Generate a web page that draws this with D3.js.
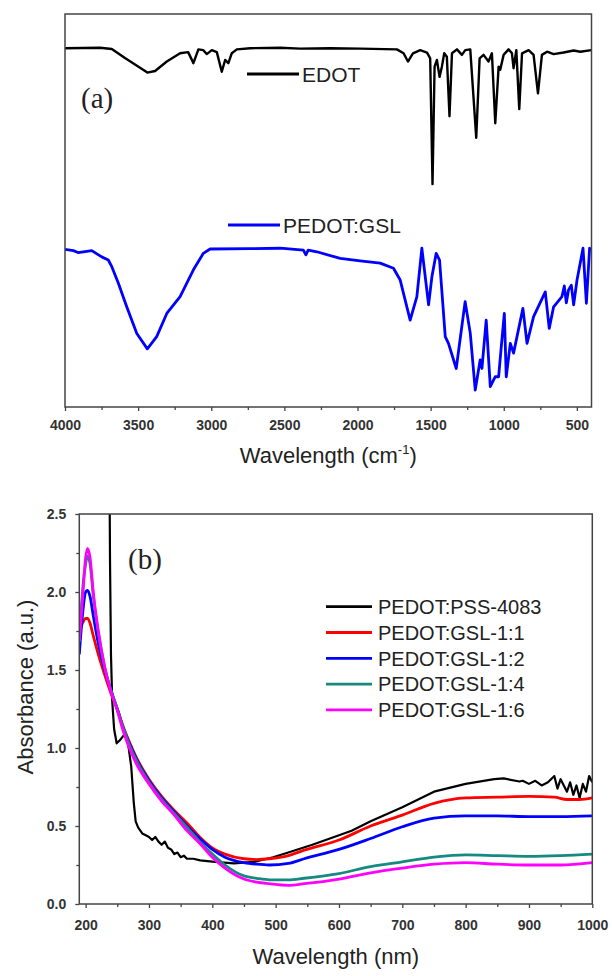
<!DOCTYPE html>
<html>
<head>
<meta charset="utf-8">
<script src="https://cdn.jsdelivr.net/npm/d3@7"></script>
<style>
  body { margin: 0; background: #fff; }
  text { font-family: "Liberation Sans", Arial, sans-serif; }
</style>
</head>
<body>
<div id="chart"></div>
<script>
// ---- panel (a): FTIR, [wavenumber cm-1, transmittance a.u.] ----
var edotIR = [[4000,91.3],[3761,91.4],[3680,91.1],[3590,88.8],[3487,86.3],[3437,85.1],[3384,85.5],[3304,87.9],[3213,90.0],[3158,90.3],[3122,87.5],[3088,91.0],[3054,90.8],[3031,89.8],[2996,90.8],[2962,90.3],[2928,85.3],[2905,88.3],[2883,87.5],[2860,90.0],[2825,91.0],[2734,91.3],[2529,91.4],[2392,91.2],[2187,91.3],[1982,91.2],[1731,91.0],[1685,90.0],[1655,87.9],[1621,90.0],[1571,90.8],[1525,90.2],[1503,88.7],[1487,56.7],[1473,86.6],[1457,88.3],[1439,84.0],[1423,86.6],[1407,90.0],[1389,89.1],[1371,74.0],[1354,90.0],[1320,91.0],[1286,89.6],[1263,90.8],[1229,91.0],[1188,68.5],[1165,88.7],[1138,89.6],[1104,87.9],[1081,90.0],[1058,72.2],[1035,86.6],[1024,85.8],[1001,89.6],[967,91.0],[944,90.0],[933,86.2],[914,90.8],[894,75.8],[875,90.0],[830,90.8],[796,89.6],[766,79.8],[739,89.6],[704,90.4],[659,89.8],[591,90.2],[522,90.7],[477,90.4],[400,90.8]];

var gslIR = [[4000,40.1],[3943,39.8],[3911,39.3],[3875,39.5],[3817,39.8],[3749,38.2],[3704,37.4],[3680,35.7],[3635,31.5],[3578,25.5],[3509,18.7],[3437,14.8],[3373,17.9],[3304,23.8],[3213,28.1],[3122,34.9],[3054,39.1],[3008,40.2],[2734,40.3],[2529,40.4],[2370,39.9],[2353,38.7],[2337,39.9],[2278,39.5],[2118,37.8],[1982,37.2],[1845,36.6],[1754,35.3],[1708,32.3],[1640,22.1],[1594,28.1],[1560,40.4],[1514,26.0],[1491,33.2],[1462,39.1],[1439,37.4],[1400,17.9],[1378,16.2],[1325,9.8],[1264,26.8],[1229,18.8],[1195,4.3],[1161,12.0],[1149,9.8],[1120,22.1],[1092,5.2],[1058,7.7],[1035,7.7],[1019,14.5],[996,23.8],[983,7.7],[955,16.2],[933,13.7],[869,25.1],[841,16.2],[796,23.0],[716,29.3],[689,20.0],[659,25.5],[602,28.1],[586,30.8],[572,26.5],[557,29.8],[538,31.0],[522,26.0],[499,32.3],[458,40.4],[435,26.4],[413,40.4],[400,40.0]];

var irNames = ["EDOT", "PEDOT:GSL"];
var irTicks = [4000, 3500, 3000, 2500, 2000, 1500, 1000, 500];
var irMinor = [3750, 3250, 2750, 2250, 1750, 1250, 750];

// ---- panel (b): UV-vis, [wavelength nm, absorbance a.u.] ----
var pssUV = [[190,3.4],[236,3.4],[237.5,2.9],[238.5,2.2],[240,1.6],[242,1.3],[245,1.12],[249,1.03],[254,1.05],[258,1.07],[262,1.09],[265,1.06],[268,1.0],[272,0.88],[276,0.65],[279,0.53],[283,0.49],[290,0.45],[295,0.44],[300,0.43],[305,0.41],[310,0.43],[315,0.4],[320,0.38],[325,0.4],[330,0.36],[335,0.35],[340,0.32],[345,0.33],[350,0.3],[355,0.31],[360,0.29],[370,0.29],[381,0.28],[404,0.27],[434,0.26],[466,0.27],[496,0.3],[520,0.33],[558,0.38],[620,0.47],[650,0.53],[700,0.62],[750,0.72],[800,0.77],[845,0.8],[860,0.805],[885,0.785],[890,0.79],[900,0.77],[910,0.79],[920,0.76],[930,0.78],[940,0.82],[945,0.74],[950,0.8],[955,0.76],[960,0.72],[965,0.78],[970,0.7],[975,0.76],[980,0.68],[985,0.77],[990,0.72],[995,0.82],[1000,0.78]];
var gsl11UV = [[190,1.74],[195,1.8],[200,1.83],[203,1.83],[207,1.8],[212,1.72],[220,1.6],[230,1.47],[240,1.35],[250,1.25],[260,1.13],[270,1.03],[280,0.94],[300,0.8],[320,0.69],[340,0.6],[360,0.52],[380,0.43],[400,0.36],[420,0.32],[450,0.29],[470,0.285],[490,0.29],[520,0.31],[545,0.345],[600,0.41],[650,0.5],[700,0.57],[750,0.645],[800,0.68],[850,0.685],[900,0.69],[940,0.685],[960,0.67],[980,0.67],[1000,0.68]];
var gsl12UV = [[190,1.6],[195,1.85],[200,2.0],[203,2.01],[207,1.97],[212,1.85],[220,1.67],[230,1.5],[240,1.37],[250,1.25],[260,1.12],[270,1.02],[280,0.93],[300,0.79],[320,0.68],[340,0.59],[360,0.5],[380,0.42],[400,0.35],[420,0.3],[450,0.265],[470,0.255],[490,0.25],[520,0.26],[545,0.29],[600,0.35],[650,0.42],[700,0.495],[750,0.55],[800,0.565],[850,0.565],[900,0.56],[950,0.56],[1000,0.565]];
var gsl14UV = [[190,1.68],[195,2.0],[200,2.18],[203,2.23],[207,2.18],[212,1.98],[220,1.74],[230,1.52],[240,1.37],[250,1.25],[260,1.12],[270,1.01],[280,0.92],[300,0.78],[320,0.67],[340,0.58],[360,0.49],[380,0.4],[400,0.32],[420,0.25],[450,0.18],[470,0.165],[490,0.155],[520,0.155],[545,0.165],[600,0.195],[650,0.24],[700,0.27],[750,0.3],[800,0.315],[850,0.31],[900,0.305],[950,0.31],[1000,0.32]];
var gsl16UV = [[190,1.69],[195,1.95],[200,2.22],[203,2.28],[207,2.22],[212,2.0],[220,1.75],[230,1.52],[240,1.36],[250,1.24],[260,1.1],[270,0.99],[280,0.9],[300,0.77],[320,0.66],[340,0.57],[360,0.47],[380,0.39],[400,0.3],[420,0.23],[450,0.16],[470,0.14],[490,0.13],[520,0.12],[545,0.13],[600,0.16],[650,0.2],[700,0.23],[750,0.255],[800,0.265],[850,0.255],[900,0.25],[950,0.25],[1000,0.265]];

var uvNames = ["PEDOT:PSS-4083", "PEDOT:GSL-1:1", "PEDOT:GSL-1:2", "PEDOT:GSL-1:4", "PEDOT:GSL-1:6"];
var uvXTicks = [200, 300, 400, 500, 600, 700, 800, 900, 1000];
var uvXMinor = [250, 350, 450, 550, 650, 750, 850, 950];
var uvYTicks = [0.0, 0.5, 1.0, 1.5, 2.0, 2.5];
var uvYMinor = [0.25, 0.75, 1.25, 1.75, 2.25];

var uvColors = ["#000000", "#ff0000", "#0000ff", "#168a80", "#ff00ff"];

var svg = d3.select("#chart").append("svg")
    .attr("width", 612)
    .attr("height", 976);

function styleAxis(g) {
    g.select(".domain").remove();
    g.selectAll(".tick line").attr("stroke", "#444").attr("stroke-width", 1.3);
    g.selectAll(".tick text")
        .attr("fill", "#333")
        .attr("font-size", 14)
        .attr("font-weight", "bold")
        .attr("font-family", "Liberation Sans, Arial, sans-serif");
}

// ================= panel (a) =================
var A = {left: 65, right: 591.5, top: 14, bottom: 407};
var xa = d3.scaleLinear().domain([4000, 400]).range([A.left, A.right]);
var ya = d3.scaleLinear().domain([0, 100]).range([A.bottom, A.top]);

svg.append("clipPath").attr("id", "clipA")
    .append("rect").attr("x", A.left).attr("y", A.top)
    .attr("width", A.right - A.left).attr("height", A.bottom - A.top);

var lineA = d3.line().x(d => xa(d[0])).y(d => ya(d[1]));

svg.append("path").datum(edotIR)
    .attr("clip-path", "url(#clipA)")
    .attr("fill", "none").attr("stroke", "#000").attr("stroke-width", 2.4)
    .attr("stroke-linejoin", "round")
    .attr("d", lineA);

svg.append("path").datum(gslIR)
    .attr("clip-path", "url(#clipA)")
    .attr("fill", "none").attr("stroke", "#0000ff").attr("stroke-width", 2.8)
    .attr("stroke-linejoin", "round")
    .attr("d", lineA);

svg.append("g")
    .attr("transform", `translate(0, ${A.bottom})`)
    .call(d3.axisBottom(xa).tickValues(irTicks).tickSize(4).tickPadding(9).tickFormat(d3.format("d")))
    .call(styleAxis);
svg.append("g")
    .attr("transform", `translate(0, ${A.bottom})`)
    .call(d3.axisBottom(xa).tickValues(irMinor).tickSize(3).tickFormat(""))
    .call(styleAxis);

svg.append("rect")
    .attr("x", A.left).attr("y", A.top)
    .attr("width", A.right - A.left).attr("height", A.bottom - A.top)
    .attr("fill", "none").attr("stroke", "#444").attr("stroke-width", 1.5);

svg.append("text")
    .attr("x", 81).attr("y", 108)
    .style("font-family", "Liberation Serif, Times New Roman, serif")
    .attr("font-size", 29).attr("fill", "#222")
    .text("(a)");

// legend labels inside panel (a)
var irLegend = [
    {name: irNames[0], color: "#000", x: 247, y: 74},
    {name: irNames[1], color: "#0000ff", x: 228, y: 225}
];
irLegend.forEach(function(l) {
    svg.append("line")
        .attr("x1", l.x).attr("x2", l.x + 52)
        .attr("y1", l.y).attr("y2", l.y)
        .attr("stroke", l.color).attr("stroke-width", 2.8);
    svg.append("text")
        .attr("x", l.x + 55).attr("y", l.y + 7.5)
        .attr("font-size", 21).attr("fill", "#222")
        .text(l.name);
});

var xaLabel = svg.append("text")
    .attr("x", (A.left + A.right) / 2).attr("y", 463)
    .attr("text-anchor", "middle")
    .attr("font-size", 22).attr("fill", "#222");
xaLabel.append("tspan").text("Wavelength (cm");
xaLabel.append("tspan").attr("font-size", 13).attr("dy", -9).text("-1");
xaLabel.append("tspan").attr("dy", 9).text(")");

// ================= panel (b) =================
var B = {left: 79.3, right: 592.3, top: 514, bottom: 904};
var xb = d3.scaleLinear().domain([190, 1000]).range([B.left, B.right]);
var yb = d3.scaleLinear().domain([0, 2.5]).range([B.bottom, B.top]);

svg.append("clipPath").attr("id", "clipB")
    .append("rect").attr("x", B.left).attr("y", B.top)
    .attr("width", B.right - B.left).attr("height", B.bottom - B.top);

var uvSeries = [pssUV, gsl11UV, gsl12UV, gsl14UV, gsl16UV];

var lineB = d3.line().x(d => xb(d[0])).y(d => yb(d[1]));
var smoothB = d3.line().x(d => xb(d[0])).y(d => yb(d[1])).curve(d3.curveMonotoneX);

uvSeries.forEach(function(s, i) {
    svg.append("path").datum(s)
        .attr("clip-path", "url(#clipB)")
        .attr("fill", "none")
        .attr("stroke", uvColors[i])
        .attr("stroke-width", i == 0 ? 2.2 : 2.8)
        .attr("stroke-linejoin", "round")
        .attr("d", i == 0 ? lineB : smoothB);
});

svg.append("g")
    .attr("transform", `translate(0, ${B.bottom})`)
    .call(d3.axisBottom(xb).tickValues(uvXTicks).tickSize(4).tickPadding(12).tickFormat(d3.format("d")))
    .call(styleAxis);
svg.append("g")
    .attr("transform", `translate(0, ${B.bottom})`)
    .call(d3.axisBottom(xb).tickValues(uvXMinor).tickSize(3).tickFormat(""))
    .call(styleAxis);
svg.append("g")
    .attr("transform", `translate(${B.left}, 0)`)
    .call(d3.axisLeft(yb).tickValues(uvYTicks).tickSize(4).tickPadding(9).tickFormat(d3.format(".1f")))
    .call(styleAxis);
svg.append("g")
    .attr("transform", `translate(${B.left}, 0)`)
    .call(d3.axisLeft(yb).tickValues(uvYMinor).tickSize(3).tickFormat(""))
    .call(styleAxis);

svg.append("rect")
    .attr("x", B.left).attr("y", B.top)
    .attr("width", B.right - B.left).attr("height", B.bottom - B.top)
    .attr("fill", "none").attr("stroke", "#444").attr("stroke-width", 1.5);

svg.append("text")
    .attr("x", 128).attr("y", 569)
    .style("font-family", "Liberation Serif, Times New Roman, serif")
    .attr("font-size", 29).attr("fill", "#222")
    .text("(b)");

// legend
var legB = svg.append("g").attr("transform", "translate(326, 606.7)");
uvNames.forEach(function(n, i) {
    var row = legB.append("g").attr("transform", `translate(0, ${i * 25.8})`);
    row.append("line").attr("x1", 0).attr("x2", 46)
        .attr("stroke", uvColors[i]).attr("stroke-width", 2.8);
    row.append("text").attr("x", 52).attr("y", 7.2)
        .attr("font-size", 20).attr("fill", "#222")
        .text(n);
});

svg.append("text")
    .attr("x", (B.left + B.right) / 2).attr("y", 964)
    .attr("text-anchor", "middle")
    .attr("font-size", 22).attr("fill", "#222")
    .text("Wavelength (nm)");

svg.append("text")
    .attr("transform", "translate(33, 687) rotate(-90)")
    .attr("text-anchor", "middle")
    .attr("font-size", 22).attr("fill", "#222")
    .text("Absorbance (a.u.)");
</script>
</body>
</html>
